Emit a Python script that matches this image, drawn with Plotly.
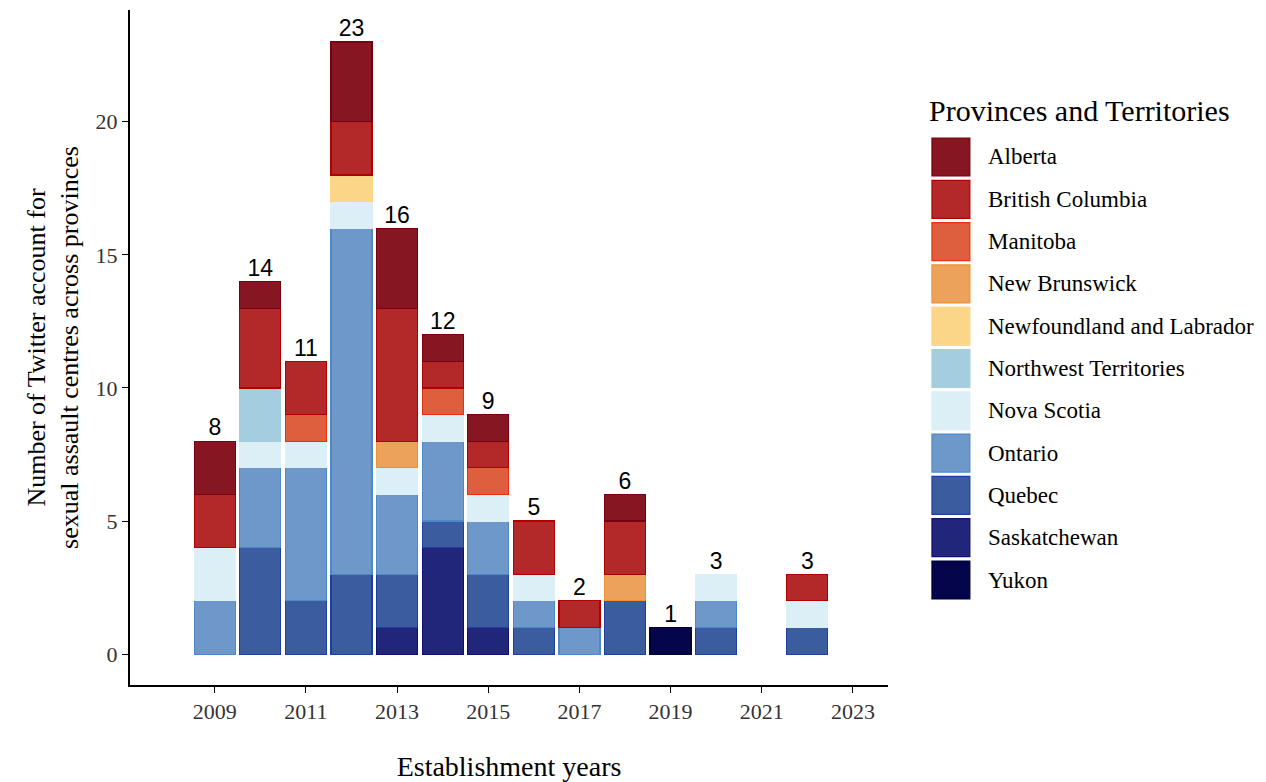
import plotly.graph_objects as go

years = [2009, 2010, 2011, 2012, 2013, 2014, 2015, 2016, 2017, 2018, 2019, 2020, 2022]

# counts per province (same order as years)
yukon        = [0, 0, 0, 0, 0, 0, 0, 0, 0, 0, 1, 0, 0]
saskatchewan = [0, 0, 0, 0, 1, 4, 1, 0, 0, 0, 0, 0, 0]
quebec       = [0, 4, 2, 3, 2, 1, 2, 1, 0, 2, 0, 1, 1]
ontario      = [2, 3, 5, 13, 3, 3, 2, 1, 1, 0, 0, 1, 0]
nova_scotia  = [2, 1, 1, 1, 1, 1, 1, 1, 0, 0, 0, 1, 1]
nwt          = [0, 2, 0, 0, 0, 0, 0, 0, 0, 0, 0, 0, 0]
newfoundland = [0, 0, 0, 1, 0, 0, 0, 0, 0, 0, 0, 0, 0]
new_brunswick= [0, 0, 0, 0, 1, 0, 0, 0, 0, 1, 0, 0, 0]
manitoba     = [0, 0, 1, 0, 0, 1, 1, 0, 0, 0, 0, 0, 0]
british_col  = [2, 3, 2, 2, 5, 1, 1, 2, 1, 2, 0, 0, 1]
alberta      = [2, 1, 0, 3, 3, 1, 1, 0, 0, 1, 0, 0, 0]

provinces = ["Alberta", "British Columbia", "Manitoba", "New Brunswick",
             "Newfoundland and Labrador", "Northwest Territories", "Nova Scotia",
             "Ontario", "Quebec", "Saskatchewan", "Yukon"]
series = [alberta, british_col, manitoba, new_brunswick, newfoundland, nwt,
          nova_scotia, ontario, quebec, saskatchewan, yukon]
colors = ["#861621", "#B3292A", "#DD5F3E", "#ECA25A", "#FBD588", "#A5CDE0",
          "#DCEEF6", "#6D98C9", "#3B5DA0", "#22267A", "#04054A"]
outlines = ["#7A0010", "#B00000", "#E83010", "#F09030", "#FBD588", "#A5CDE0",
            "#DCEEF6", "#4D88C9", "#1B40A0", "#101070", "#000030"]

fig = go.Figure()

# stacking: Yukon at bottom, Alberta on top
for name, vals, c, oc in reversed(list(zip(provinces, series, colors, outlines))):
    xs = [y for y, v in zip(years, vals) if v > 0]
    vs = [v for v in vals if v > 0]
    fig.add_trace(go.Bar(
        x=xs, y=vs, name=name, width=0.9,
        marker=dict(color=c, line=dict(color=oc, width=1.2)),
        showlegend=False,
        hovertemplate=name + ": %{y}<extra></extra>",
    ))

totals = [sum(s[i] for s in series) for i in range(len(years))]
fig.add_trace(go.Scatter(
    x=years, y=totals, mode="text", text=[str(t) for t in totals],
    textposition="top center",
    textfont=dict(family="Liberation Sans, Arial, sans-serif", size=23, color="black"),
    showlegend=False, hoverinfo="skip", cliponaxis=False,
))

serif = "Liberation Serif, Times New Roman, serif"

# manual legend (large square keys as in the reference)
shapes = []
annotations = []
x0p, x1p = 1.058, 1.108
top_px, step_px, plot_top, plot_h = 157.0, 42.3, 10.0, 675.0
for i, (name, c, oc) in enumerate(zip(provinces, colors, outlines)):
    cy_px = top_px + i * step_px
    cy = 1 - (cy_px - plot_top) / plot_h
    half = 19.0 / plot_h
    shapes.append(dict(type="rect", xref="paper", yref="paper",
                       x0=x0p, x1=x1p, y0=cy - half, y1=cy + half,
                       fillcolor=c, line=dict(color=oc, width=1.2)))
    annotations.append(dict(xref="paper", yref="paper", x=1.129, y=cy,
                            text=name, showarrow=False, xanchor="left", yanchor="middle",
                            font=dict(family=serif, size=23, color="black")))
annotations.append(dict(xref="paper", yref="paper", x=1.052, y=1 - (110 - plot_top) / plot_h,
                        text="Provinces and Territories", showarrow=False,
                        xanchor="left", yanchor="middle",
                        font=dict(family=serif, size=30, color="black")))

fig.update_layout(
    width=1258, height=774,
    margin=dict(l=122, r=378, t=2, b=97),
    plot_bgcolor="white", paper_bgcolor="white",
    barmode="stack", bargap=0.1,
    font=dict(family=serif, color="black"),
    shapes=shapes, annotations=annotations,
    showlegend=False,
    xaxis=dict(
        range=[2007.14, 2023.77],
        tickmode="array", tickvals=[2009, 2011, 2013, 2015, 2017, 2019, 2021, 2023],
        ticks="outside", ticklen=6, tickcolor="black", tickwidth=1.2,
        showline=True, linecolor="black", linewidth=2,
        showgrid=False, zeroline=False, automargin=False,
        tickfont=dict(family=serif, size=22, color="#333333"),
        title=dict(text="Establishment years", standoff=33,
                   font=dict(family=serif, size=28, color="black")),
    ),
    yaxis=dict(
        range=[-1.16, 24.2],
        tickmode="array", tickvals=[0, 5, 10, 15, 20],
        ticks="outside", ticklen=6, tickcolor="black", tickwidth=1.2,
        showline=True, linecolor="black", linewidth=2,
        showgrid=False, zeroline=False, automargin=False,
        tickfont=dict(family=serif, size=22, color="#333333"),
        title=dict(text="Number of Twitter account for<br>sexual assault centres across provinces",
                   standoff=9, font=dict(family=serif, size=26, color="black")),
    ),
)

fig.write_html("out.html")
